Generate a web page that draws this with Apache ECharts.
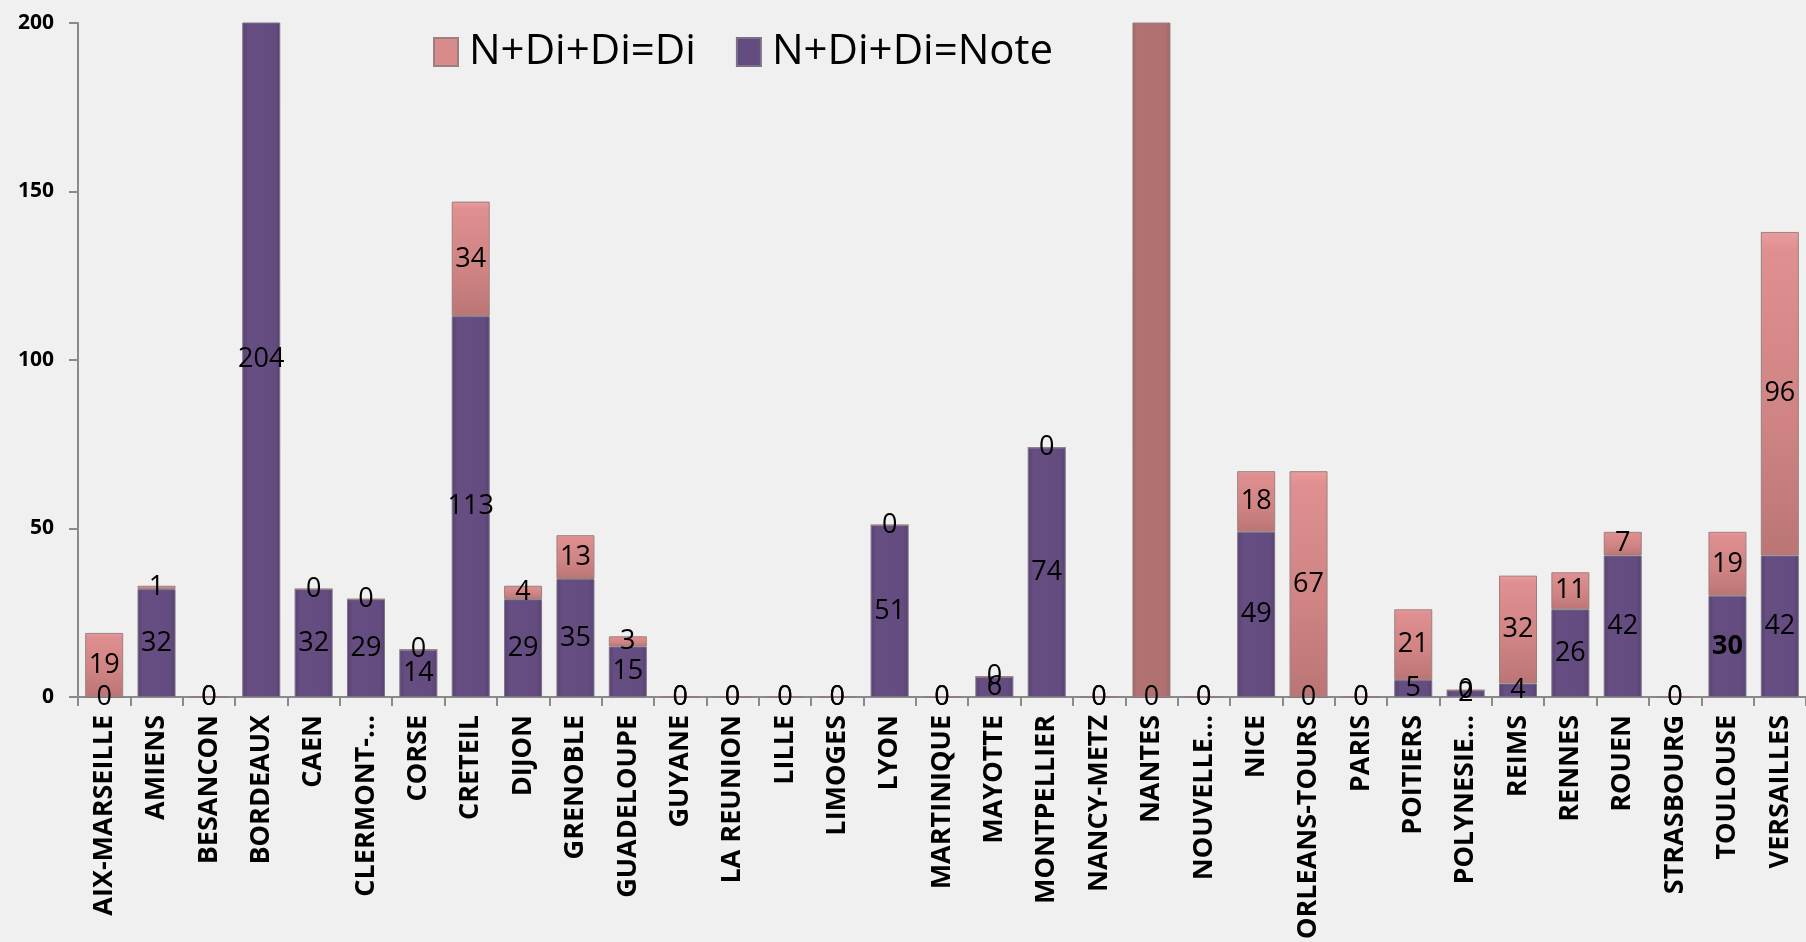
<!DOCTYPE html>
<html>
<head>
<meta charset="utf-8">
<script src="https://cdn.jsdelivr.net/npm/echarts@6/dist/echarts.min.js"></script>
<style>
html,body{margin:0;padding:0;background:#f0f0f0;}
#chart{width:1806px;height:942px;}
</style>
</head>
<body>
<div id="chart"></div>
<script>
const categories = ['AIX-MARSEILLE','AMIENS','BESANCON','BORDEAUX','CAEN','CLERMONT-…','CORSE','CRETEIL','DIJON','GRENOBLE','GUADELOUPE','GUYANE','LA REUNION','LILLE','LIMOGES','LYON','MARTINIQUE','MAYOTTE','MONTPELLIER','NANCY-METZ','NANTES','NOUVELLE…','NICE','ORLEANS-TOURS','PARIS','POITIERS','POLYNESIE…','REIMS','RENNES','ROUEN','STRASBOURG','TOULOUSE','VERSAILLES'];
const noteValues = [0,32,0,204,32,29,14,113,29,35,15,0,0,0,0,51,0,6,74,0,0,0,49,0,0,5,2,4,26,42,0,30,42];
const diValues   = [19,1,0,0,0,0,0,34,4,13,3,0,0,0,0,0,0,0,0,0,420,0,18,67,0,21,0,32,11,7,0,19,96];
const seriesNames = ['N+Di+Di=Di','N+Di+Di=Note'];
const yTicks = {min:0, max:200, interval:50};
const boldNoteLabels = ['TOULOUSE'];

function makeData(vals, bases, boldCats, clippedColor){
  return vals.map((v,i)=>{
    const base = bases ? bases[i] : 0;
    const center = base + v/2;
    const item = {value:v};
    if (center > yTicks.max) item.label = {show:false};
    if (clippedColor && v > 0 && base + v > 1.5 * yTicks.max) item.itemStyle = {color:clippedColor};
    if (boldCats && boldCats.indexOf(categories[i]) >= 0) item.label = Object.assign({}, item.label||{}, {fontWeight:'bold'});
    return item;
  });
}

const pinkFill = new echarts.graphic.LinearGradient(0,0,0,1,[
  {offset:0,color:'#ea9c9c'},{offset:0.06,color:'#df8f8f'},{offset:0.6,color:'#cf8383'},{offset:1,color:'#bb7575'}]);
const purpleFill = new echarts.graphic.LinearGradient(0,0,1,0,[
  {offset:0,color:'#584370'},{offset:0.15,color:'#664d82'},{offset:0.85,color:'#654c80'},{offset:1,color:'#564270'}]);
const nantesFill = new echarts.graphic.LinearGradient(0,0,1,0,[
  {offset:0,color:'#9e6464'},{offset:0.12,color:'#b27272'},{offset:0.88,color:'#b07070'},{offset:1,color:'#9a6262'}]);

const labelStyle = {show:true, position:'inside', color:'#000', fontFamily:'Open Sans', fontSize:27};

const chart = echarts.init(document.getElementById('chart'));
chart.setOption({
  backgroundColor:'#f0f0f0',
  animation:false,
  grid:{left:78, right:0, top:23, bottom:245, containLabel:false},
  legend:{
    data:[{name:seriesNames[0], itemStyle:{color:'#d98b8b'}}, {name:seriesNames[1], itemStyle:{color:'#654c80'}}],
    icon:'rect', left:428, top:26, itemWidth:24, itemHeight:28, itemGap:40,
    textStyle:{fontFamily:'Open Sans', fontSize:42, color:'#000', padding:[0,0,0,6]}
  },
  xAxis:{
    type:'category', data:categories,
    axisLine:{lineStyle:{color:'#8a8a8a', width:2}},
    axisTick:{show:true, interval:0, length:9, lineStyle:{color:'#8a8a8a', width:2}},
    axisLabel:{interval:0, rotate:90, margin:18, color:'#000', fontFamily:'Open Sans', fontWeight:'bold', fontSize:27}
  },
  yAxis:{
    type:'value', min:yTicks.min, max:yTicks.max, interval:yTicks.interval,
    splitLine:{show:false},
    axisLine:{show:true, lineStyle:{color:'#8a8a8a', width:2}},
    axisTick:{show:true, length:9, lineStyle:{color:'#8a8a8a', width:2}},
    axisLabel:{margin:24, color:'#000', fontFamily:'Open Sans', fontWeight:'bold', fontSize:21}
  },
  series:[
    {
      name:seriesNames[1], type:'bar', stack:'s', barWidth:38,
      data:makeData(noteValues, null, boldNoteLabels, null),
      itemStyle:{color:purpleFill, borderColor:'#7c7288', borderWidth:1},
      label:labelStyle
    },
    {
      name:seriesNames[0], type:'bar', stack:'s', barWidth:38,
      data:makeData(diValues, noteValues, null, nantesFill),
      itemStyle:{color:pinkFill, borderColor:'#9a8080', borderWidth:1},
      label:labelStyle
    }
  ]
});
</script>
</body>
</html>
